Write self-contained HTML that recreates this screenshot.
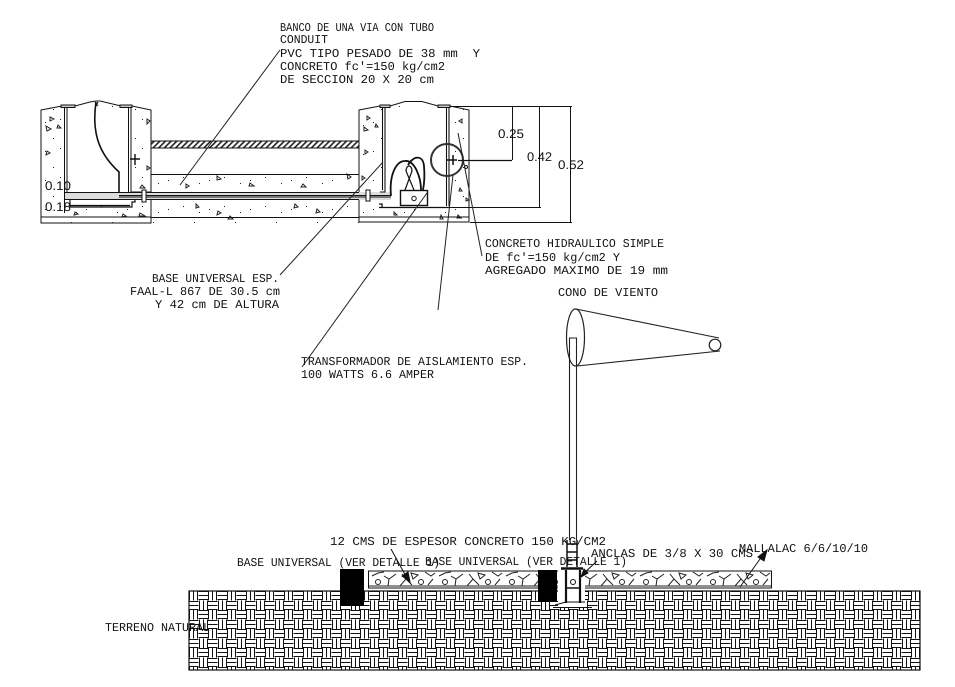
<!DOCTYPE html>
<html><head><meta charset="utf-8"><style>
html,body{margin:0;padding:0;background:#fff}
svg{display:block}
text{font-family:"Liberation Mono",monospace;font-size:12px;fill:#111;text-rendering:geometricPrecision}
text.d{font-family:"Liberation Sans",sans-serif;font-size:12.500px}
</style></head><body>
<svg width="955" height="687" viewBox="0 0 955 687" xmlns="http://www.w3.org/2000/svg">
<defs>
<pattern id="weave" x="189" y="591" width="19" height="19" patternUnits="userSpaceOnUse">
<rect width="19" height="19" fill="#fff"/>
<g stroke="#111" stroke-width="1" fill="none" shape-rendering="crispEdges">
<path d="M.5 0V9.500M4.500 0V9.500M8.500 0V9.500"/>
<path d="M10.500 9.500V19M14.500 9.500V19M18.500 9.500V19"/>
<path d="M9.500 .5H19M9.500 4.500H19M9.500 8.500H19"/>
<path d="M0 10.500H9.500M0 14.500H9.500M0 18.500H9.500"/>
</g>
</pattern>
<pattern id="hatch" width="4" height="4" patternUnits="userSpaceOnUse" patternTransform="rotate(45)">
<rect width="4" height="4" fill="#fff"/><rect width="1.600" height="4" fill="#222"/>
</pattern>
<pattern id="dots" width="41" height="29" patternUnits="userSpaceOnUse">
<g fill="#222">
<rect x="4" y="6" width="1" height="1"/><rect x="19" y="3" width="1" height="1"/>
<rect x="30" y="19" width="1" height="1"/><rect x="12" y="22" width="1" height="1"/>
<rect x="35" y="9" width="1" height="1"/>
</g>
</pattern>
<pattern id="gravel" x="369" y="571" width="67" height="17" patternUnits="userSpaceOnUse">
<g fill="none" stroke="#222" stroke-width="1">
<circle cx="9" cy="11" r="2.500"/>
<path d="M15 5L20 8 27 3M20 8L19 15M0 15H67"/>
<path d="M3 5L9 2 15 1M33 3L37 8 31 15M37 8L43 14"/>
<path d="M42 2L49 4 44 8Z"/>
<circle cx="52" cy="11" r="2.500"/>
<path d="M56 1L62 5 66 2M59 14L64 8"/>
</g>
</pattern>
</defs>

<!-- concrete bodies -->
<path d="M41 110L62 106H75L90 102 96 101 100 101 121 106H132L151 110V223H41Z" fill="url(#dots)" stroke="#111"/>
<path d="M65 107H128V192H151V196H65Z" fill="#fff"/>
<rect x="151" y="174" width="208" height="49" fill="url(#dots)"/>
<path d="M359 110L380 106H390L405 101.500H422L438 106H450L469 110V222H359Z" fill="url(#dots)" stroke="#111"/>
<path d="M384 107H446V207H380V192H384Z" fill="#fff"/>

<!-- aggregate triangles -->
<g fill="none" stroke="#222" stroke-width="1">
<path d="M50 117l4 2-4 2zM46 126l5 3-4 2zM58 125l3 3h-4zM47 151l3 2-4 2zM147 119l3 2-3 3zM147 166l3 2-3 2zM75 212l3 2-4 1zM123 214l3 2-4 1zM140 213l5 3h-6zM142 185l3 3h-5z" />
<path d="M186 184l3 2-3 2zM217 176l4 3-4 1zM303 184l3 3h-5zM250 183l4 3h-5zM347 174l4 3-3 2zM196 204l3 3-3 1zM218 211l3 2-4 2zM230 216l3 3h-5zM295 204l3 3-4 1zM317 209l3 3-4 1z"/>
<path d="M367 116l3 2-3 2zM364 127l4 3-4 1zM376 124l2 3h-3zM365 150l3 2-3 2zM362 176l3 2-3 2zM462 119l-3 2 3 2zM460 188l2 3-3 0zM466 198l3 2-3 1zM394 212l3 3-3 0zM441 215l2 4h-3zM458 215l3 3h-4z"/>
</g>

<!-- left chamber -->
<g fill="none" stroke="#111" stroke-width="1">
<path d="M64.500 107V213M67 107V197M128.500 107V192M131 107V192H151"/>
<rect x="61" y="105" width="14" height="2.500" fill="#ccc"/>
<rect x="120" y="105" width="12" height="2.500" fill="#ccc"/>
<path d="M96 102C92 130 97 152 119 172V195" stroke-width="1.600"/>
<path d="M98 102L96 106M95 102L98 106"/>
<path d="M70 199V207H132V202H135V199M70 205.500H130" stroke-width="1.200"/>
<path d="M41 217H151"/>
<path d="M130 159H140M135 154V165" stroke-width="1.400"/>
</g>

<!-- banco -->
<rect x="151" y="141" width="208" height="7" fill="url(#hatch)" stroke="#111"/>
<path d="M151 174.500H359M151 217.500H359" stroke="#111" fill="none"/>
<rect x="65" y="192" width="326" height="8" fill="#ddd"/>
<path d="M65 192.500H359M65 199.500H359M119 195.500H391M119 197H391" stroke="#111" fill="none" stroke-width="1"/>
<rect x="142" y="190" width="4" height="12" fill="#fff" stroke="#111"/>

<!-- right chamber -->
<g fill="none" stroke="#111" stroke-width="1">
<path d="M382.500 107V190M385 107V192H380M446.500 107V206M449 107V206" stroke-width="1.100"/>
<path d="M379 207.500H449M379 204H382V207" stroke-width="1.300"/>
<rect x="380" y="105" width="10" height="2.500" fill="#ccc"/>
<rect x="438" y="105" width="12" height="2.500" fill="#ccc"/>
<path d="M359 217H469"/>
<rect x="366" y="190" width="4" height="11" fill="#fff"/>
<path d="M391 196C389 175 396 161 405 161 415 160 421 178 421 190M408 165C414 155 423 155 424 166 425 178 424 185 423 190" stroke-width="1.800"/>
<path d="M405 190L412 171A3 5 0 0 0 406 171L414 190" stroke-width="1.200"/>
<rect x="400.500" y="190.500" width="27" height="15" stroke-width="1.400"/>
<circle cx="414" cy="198.500" r="2.200"/>
<circle cx="447" cy="160" r="16" stroke="#333" stroke-width="2"/>
<path d="M447 160H457M453 155V165" stroke-width="1.500"/>
<path d="M458 160.500H512" stroke-width="1.200"/>
<circle cx="466" cy="167" r="1.500"/>
</g>

<!-- dims -->
<g fill="none" stroke="#111" stroke-width="1">
<path d="M450 106.500H572M512.500 106V160M539.500 106V207M570.500 106V222M449 207.500H541M470 222.500H572"/>
</g>

<!-- leaders -->
<g fill="none" stroke="#222" stroke-width="1">
<path d="M280 50L180 185"/>
<path d="M280 275L383 162"/>
<path d="M302 367L427 193"/>
<path d="M438 310L453 175"/>
<path d="M458 133L482 256"/>
</g>

<!-- cone -->
<g fill="none" stroke="#222" stroke-width="1">
<ellipse cx="575.500" cy="337.500" rx="9" ry="28.500" stroke-width="1.200"/>
<path d="M576 309L719 338M577 366L720 351" stroke-width="1.100"/>
<circle cx="715" cy="345" r="5.800" stroke-width="1.200"/>
<path d="M569.500 540V338H576.500V540" stroke-width="1.100"/>
</g>

<!-- ground -->
<rect x="189" y="591" width="731" height="79" fill="url(#weave)" stroke="#111" stroke-width="1.200"/>
<rect x="368.500" y="571" width="403" height="17" fill="url(#gravel)" stroke="#111" stroke-width="1"/>
<rect x="340" y="569" width="24" height="37" fill="#000"/>
<rect x="538" y="570" width="19" height="32" fill="#000"/>

<!-- base of pole -->
<rect x="558" y="570" width="27" height="37" fill="#fff"/>
<g fill="none" stroke="#111" stroke-width="1.200">
<path d="M561 568.500H583" stroke-width="2.500"/>
<path d="M566 570V603M580 570V603" stroke-width="2.200"/>
<path d="M555 605L566 602H585M553 607.500H592" stroke-width="1"/>
<path d="M567 540V567M577 540V567M567 544H577M567 552H577M567 560H577" stroke-width="1.500"/>
<circle cx="573" cy="582" r="2.500" stroke-width="1"/>
<path d="M567 588H579" stroke-width="1.500"/>
</g>

<!-- arrows -->
<g stroke="#111" fill="#111" stroke-width="1">
<path d="M391 549L408 580" fill="none"/><path d="M410 582L402 576 408 572Z"/>
<path d="M597 561L582 575" fill="none"/><path d="M581 577L584 569 588 573Z"/>
<path d="M740 587L765 552" fill="none"/><path d="M767 550L764 561 758 557Z"/>
</g>

<!-- text -->
<text x="280" y="31" textLength="154" lengthAdjust="spacingAndGlyphs">BANCO DE UNA VIA CON TUBO</text>
<text x="280" y="43" textLength="48" lengthAdjust="spacingAndGlyphs">CONDUIT</text>
<text x="280" y="57" textLength="200" lengthAdjust="spacingAndGlyphs" xml:space="preserve">PVC TIPO PESADO DE 38 mm  Y</text>
<text x="280" y="70" textLength="165" lengthAdjust="spacingAndGlyphs">CONCRETO fc'=150 kg/cm2</text>
<text x="280" y="83" textLength="154" lengthAdjust="spacingAndGlyphs">DE SECCION 20 X 20 cm</text>
<text x="485" y="247" textLength="179" lengthAdjust="spacingAndGlyphs">CONCRETO HIDRAULICO SIMPLE</text>
<text x="485" y="261" textLength="135" lengthAdjust="spacingAndGlyphs">DE fc'=150 kg/cm2 Y</text>
<text x="485" y="274" textLength="183" lengthAdjust="spacingAndGlyphs">AGREGADO MAXIMO DE 19 mm</text>
<text x="558" y="296" textLength="100" lengthAdjust="spacingAndGlyphs">CONO DE VIENTO</text>
<text x="152" y="282" textLength="127" lengthAdjust="spacingAndGlyphs">BASE UNIVERSAL ESP.</text>
<text x="130" y="295" textLength="150" lengthAdjust="spacingAndGlyphs">FAAL-L 867 DE 30.5 cm</text>
<text x="155" y="308" textLength="124" lengthAdjust="spacingAndGlyphs">Y 42 cm DE ALTURA</text>
<text x="301" y="365" textLength="227" lengthAdjust="spacingAndGlyphs">TRANSFORMADOR DE AISLAMIENTO ESP.</text>
<text x="301" y="378" textLength="133" lengthAdjust="spacingAndGlyphs">100 WATTS 6.6 AMPER</text>
<text x="330" y="545" textLength="276" lengthAdjust="spacingAndGlyphs">12 CMS DE ESPESOR CONCRETO 150 KG/CM2</text>
<text x="237" y="566" textLength="203" lengthAdjust="spacingAndGlyphs">BASE UNIVERSAL (VER DETALLE 1)</text>
<text x="425" y="565" textLength="202" lengthAdjust="spacingAndGlyphs">BASE UNIVERSAL (VER DETALLE 1)</text>
<text x="591" y="557" textLength="162" lengthAdjust="spacingAndGlyphs">ANCLAS DE 3/8 X 30 CMS</text>
<text x="739" y="552" textLength="129" lengthAdjust="spacingAndGlyphs">MALLALAC 6/6/10/10</text>
<text x="105" y="631" textLength="105" lengthAdjust="spacingAndGlyphs">TERRENO NATURAL</text>
<text class="d" x="498" y="138" textLength="26" lengthAdjust="spacingAndGlyphs">0.25</text>
<text class="d" x="527" y="161" textLength="25" lengthAdjust="spacingAndGlyphs">0.42</text>
<text class="d" x="558" y="169" textLength="26" lengthAdjust="spacingAndGlyphs">0.52</text>
<text class="d" x="45" y="190" textLength="26" lengthAdjust="spacingAndGlyphs">0.10</text>
<text class="d" x="45" y="211" textLength="26" lengthAdjust="spacingAndGlyphs">0.18</text>
</svg>
</body></html>
